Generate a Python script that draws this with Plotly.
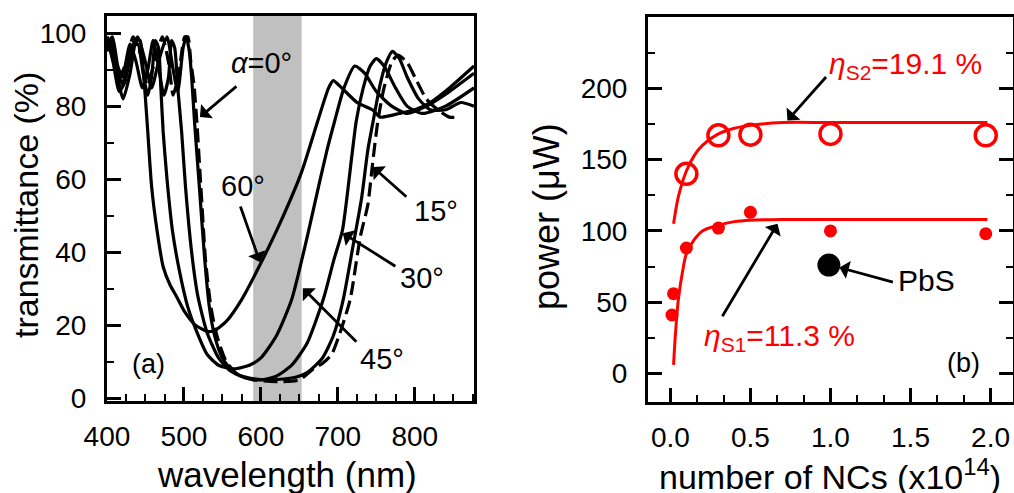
import plotly.graph_objects as go

# ---------------- panel (a) data: transmittance spectra ----------------
wl_0 = [400, 408, 416, 425, 434, 444, 452, 462, 472, 480, 486, 494, 501, 505, 509, 513, 517, 522, 528, 535, 543,
        555, 570, 590, 620, 650, 668, 680, 692, 703, 716, 729, 739, 745, 752, 760, 770, 778, 790, 800, 815, 830, 845, 858]
T_0 = [99, 96, 88, 92, 99, 94, 86, 92, 99, 92, 83, 90, 99, 99, 92, 86, 75, 58, 38, 25, 17,
       10, 6.5, 5, 4.5, 5, 8, 9.5, 12, 18, 27, 44, 53, 64, 76, 85, 92, 94, 92, 88, 82, 79, 77, 77]

wl_15 = [400, 410, 420, 430, 440, 450, 458, 468, 478, 486, 492, 499, 503, 507, 510, 514, 520, 527, 533, 540, 550,
         565, 585, 610, 640, 660, 680, 694, 707, 720, 731, 739, 746, 755, 763, 771, 780, 790, 805, 820, 840, 860, 877]
T_15 = [98, 93, 86, 95, 99, 92, 85, 93, 99, 90, 84, 96, 99, 95, 88, 75, 58, 38, 25, 17, 11,
        7, 5.5, 5, 5.5, 7, 11, 17, 27, 42, 55, 68, 76, 86, 92, 95, 93, 88, 82, 79, 79, 81, 80]

wl_30 = [400, 407, 414, 420, 430, 438, 446, 453, 460, 466, 474, 480, 484, 488, 492, 497, 502, 510, 518, 530, 545,
         560, 580, 600, 620, 640, 660, 681, 695, 706, 718, 724, 733, 742, 750, 760, 775, 790, 810, 840, 877]
T_30 = [97, 99, 91, 88, 97, 92, 85, 90, 98, 92, 83, 88, 98, 96, 85, 73, 58, 40, 28, 18, 11,
        7.5, 5.5, 5, 6, 9, 15, 27, 38, 46, 66, 76, 85, 91, 93, 91, 85, 80, 78, 80, 85]

wl_45 = [400, 408, 416, 424, 433, 440, 447, 453, 458, 463, 467, 470, 473, 478, 485, 494, 505, 517, 530, 545, 565,
         585, 600, 620, 640, 660, 675, 686, 696, 708, 722, 735, 750, 770, 790, 815, 845, 877]
T_45 = [99, 92, 84, 87, 96, 97, 89, 83, 88, 98, 96, 85, 73, 60, 46, 35, 25, 18, 12, 9, 8,
        9, 11, 17, 27, 44, 58, 68, 76, 85, 91, 89, 84, 80, 78, 80, 84, 89]

wl_60 = [400, 405, 412, 421, 430, 438, 443, 447, 450, 453, 458, 465, 473, 482, 490, 500, 515, 530, 540, 555, 575,
         600, 625, 653, 674, 688, 694, 705, 725, 745, 755, 780, 800, 820, 845, 877]
T_60 = [95, 98, 90, 82, 89, 98, 98, 90, 82, 73, 58, 46, 36, 31, 28, 24, 20, 18.3, 18.5, 21, 27,
        37, 48, 62, 76, 85, 87, 85, 81, 79, 77, 78, 79, 81, 85, 91]

band_nm = [590, 653]

# ---------------- panel (b) data: power vs number of NCs ----------------
n_S2 = [0.1, 0.3, 0.5, 1.0, 1.97]
P_S2 = [140, 167, 167.5, 168, 167]
n_S1 = [0.01, 0.02, 0.1, 0.3, 0.5, 1.0, 1.97]
P_S1 = [41, 56, 88, 102, 113, 100, 98]
n_PbS = [0.99]
P_PbS = [76]

fit_n_S2 = [0.02, 0.05, 0.1, 0.15, 0.2, 0.3, 0.4, 0.5, 0.7, 1.0, 1.98]
fit_P_S2 = [105, 124, 142, 153, 160, 168, 172, 174, 176, 176, 176]
fit_n_S1 = [0.02, 0.03, 0.05, 0.08, 0.1, 0.15, 0.2, 0.3, 0.4, 0.5, 0.7, 1.98]
fit_P_S1 = [6, 25, 52, 74, 84, 94, 100, 104, 106.5, 107.5, 108, 108]

FONT = "Liberation Sans, Arial, sans-serif"
BLACK = "black"
RED = "#ff0000"

fig = go.Figure()

curve_line = dict(color=BLACK, width=3.2, shape="spline", smoothing=0.6)
for wl, T in [(wl_15, T_15), (wl_30, T_30), (wl_45, T_45), (wl_60, T_60)]:
    fig.add_trace(go.Scatter(x=wl, y=T, mode="lines", line=curve_line,
                             xaxis="x", yaxis="y", showlegend=False))
fig.add_trace(go.Scatter(x=wl_0, y=T_0, mode="lines",
                         line=dict(color=BLACK, width=3.2, dash="14px,6px", shape="spline", smoothing=0.6),
                         xaxis="x", yaxis="y", showlegend=False))

# panel (b)
fig.add_trace(go.Scatter(x=fit_n_S2, y=fit_P_S2, mode="lines",
                         line=dict(color=RED, width=3, shape="spline", smoothing=0.8),
                         xaxis="x2", yaxis="y2", showlegend=False))
fig.add_trace(go.Scatter(x=fit_n_S1, y=fit_P_S1, mode="lines",
                         line=dict(color=RED, width=3, shape="spline", smoothing=0.8),
                         xaxis="x2", yaxis="y2", showlegend=False))
fig.add_trace(go.Scatter(x=n_S2, y=P_S2, mode="markers",
                         marker=dict(symbol="circle-open", size=21, color=RED, line=dict(width=3.5, color=RED)),
                         xaxis="x2", yaxis="y2", showlegend=False, cliponaxis=False))
fig.add_trace(go.Scatter(x=n_S1, y=P_S1, mode="markers",
                         marker=dict(symbol="circle", size=13, color=RED),
                         xaxis="x2", yaxis="y2", showlegend=False))
fig.add_trace(go.Scatter(x=n_PbS, y=P_PbS, mode="markers",
                         marker=dict(symbol="circle", size=23, color=BLACK),
                         xaxis="x2", yaxis="y2", showlegend=False))

# gray band
fig.add_shape(type="rect", xref="x", yref="y domain", x0=band_nm[0], x1=band_nm[1], y0=0, y1=1,
              fillcolor="#c0c0c0", line=dict(width=0), layer="below")

tickfont = dict(family=FONT, size=28, color=BLACK)
common = dict(showgrid=False, zeroline=False, showline=True, linecolor=BLACK, linewidth=3,
              ticks="inside", tickcolor=BLACK, tickwidth=2.5, ticklen=14, tickfont=tickfont,
              automargin=False)

fig.update_layout(
    width=1014, height=493,
    margin=dict(l=0, r=0, t=0, b=0, autoexpand=False),
    paper_bgcolor="white", plot_bgcolor="white",
    xaxis=dict(domain=[0.1055, 0.4675], range=[400, 877], anchor="y", mirror=True,
               tickvals=[400, 500, 600, 700, 800], ticklabelstandoff=8,
               minor=dict(dtick=25, tick0=400, ticks="inside", ticklen=7, tickwidth=2, tickcolor=BLACK),
               **common),
    yaxis=dict(domain=[0.1866, 0.9675], range=[-0.8, 104.7], anchor="x", mirror=True,
               tickvals=[0, 20, 40, 60, 80, 100], ticklabelstandoff=12,
               minor=dict(dtick=10, tick0=0, ticks="inside", ticklen=7, tickwidth=2, tickcolor=BLACK),
               **common),
    xaxis2=dict(domain=[0.639, 0.999], range=[-0.14, 2.14], anchor="y2", mirror=True,
                tickvals=[0, 0.5, 1.0, 1.5, 2.0], ticktext=["0.0", "0.5", "1.0", "1.5", "2.0"],
                ticklabelstandoff=8,
                minor=dict(dtick=1 / 6, tick0=0, ticks="inside", ticklen=7, tickwidth=2, tickcolor=BLACK),
                **common),
    yaxis2=dict(domain=[0.1846, 0.9655], range=[-20, 250], anchor="x2", mirror="ticks",
                tickvals=[0, 50, 100, 150, 200], ticklabelstandoff=12,
                minor=dict(tickvals=[25, 75, 125, 175, 225], ticks="inside", ticklen=7, tickwidth=2,
                           tickcolor=BLACK),
                **common),
)

ann = []
# axis titles
ann.append(dict(text="transmittance (%)", xref="paper", yref="paper", x=26 / 1014, y=1 - 205 / 493,
                textangle=-90, showarrow=False, font=dict(family=FONT, size=34, color=BLACK),
                xanchor="center", yanchor="middle"))
ann.append(dict(text="wavelength (nm)", xref="paper", yref="paper", x=287 / 1014, y=1 - 474 / 493,
                showarrow=False, font=dict(family=FONT, size=35, color=BLACK),
                xanchor="center", yanchor="middle"))
ann.append(dict(text="power (μW)", xref="paper", yref="paper", x=547 / 1014, y=1 - 217 / 493,
                textangle=-90, showarrow=False, font=dict(family=FONT, size=36, color=BLACK),
                xanchor="center", yanchor="middle"))
ann.append(dict(text="number of NCs (x10<sup>14</sup>)", xref="paper", yref="paper", x=830 / 1014,
                y=1 - 474 / 493, showarrow=False, font=dict(family=FONT, size=34, color=BLACK),
                xanchor="center", yanchor="middle"))

lfont = dict(family=FONT, size=29, color=BLACK)
# panel (a) labels
for txt, x, y in [("<i>α</i>=0°", 601, 91.8), ("60°", 576.6, 58), ("15°", 827, 51.2),
                  ("30°", 809, 32.9), ("45°", 757, 10.7)]:
    ann.append(dict(text=txt, x=x, y=y, xref="x", yref="y", showarrow=False, font=lfont))
ann.append(dict(text="(a)", x=454.5, y=9.3, xref="x", yref="y", showarrow=False,
                font=dict(family=FONT, size=27, color=BLACK)))

arrow = dict(showarrow=True, arrowhead=1, arrowsize=1.1, arrowwidth=2.8, arrowcolor=BLACK, text="")
for x, y, ax, ay in [(520.8, 77, 38, -32), (598.7, 37.3, -20, -57), (745.5, 63.3, 35, 31),
                     (706.5, 45.2, 54, 34), (654.5, 30.1, 55, 55)]:
    ann.append(dict(x=x, y=y, ax=ax, ay=ay, xref="x", yref="y", **arrow))

# panel (b) labels
rfont = dict(family=FONT, size=30, color=RED)
ann.append(dict(text="<i>η</i><sub>S2</sub>=19.1 %", x=1.47, y=216, xref="x2", yref="y2",
                showarrow=False, font=rfont))
ann.append(dict(text="<i>η</i><sub>S1</sub>=11.3 %", x=0.68, y=25, xref="x2", yref="y2",
                showarrow=False, font=rfont))
ann.append(dict(text="PbS", x=1.6, y=65, xref="x2", yref="y2", showarrow=False,
                font=dict(family=FONT, size=30, color=BLACK)))
ann.append(dict(text="(b)", x=1.83, y=7, xref="x2", yref="y2", showarrow=False,
                font=dict(family=FONT, size=27, color=BLACK)))
for x, y, ax, ay in [(0.731, 177.4, 40, -45), (0.669, 105, -56, 94), (1.056, 74.3, 55, 15)]:
    ann.append(dict(x=x, y=y, ax=ax, ay=ay, xref="x2", yref="y2", **arrow))

fig.update_layout(annotations=ann)
fig.write_html("out.html", config={"displayModeBar": False},
               post_script="document.body.style.margin='0px';document.body.style.padding='0px';")
